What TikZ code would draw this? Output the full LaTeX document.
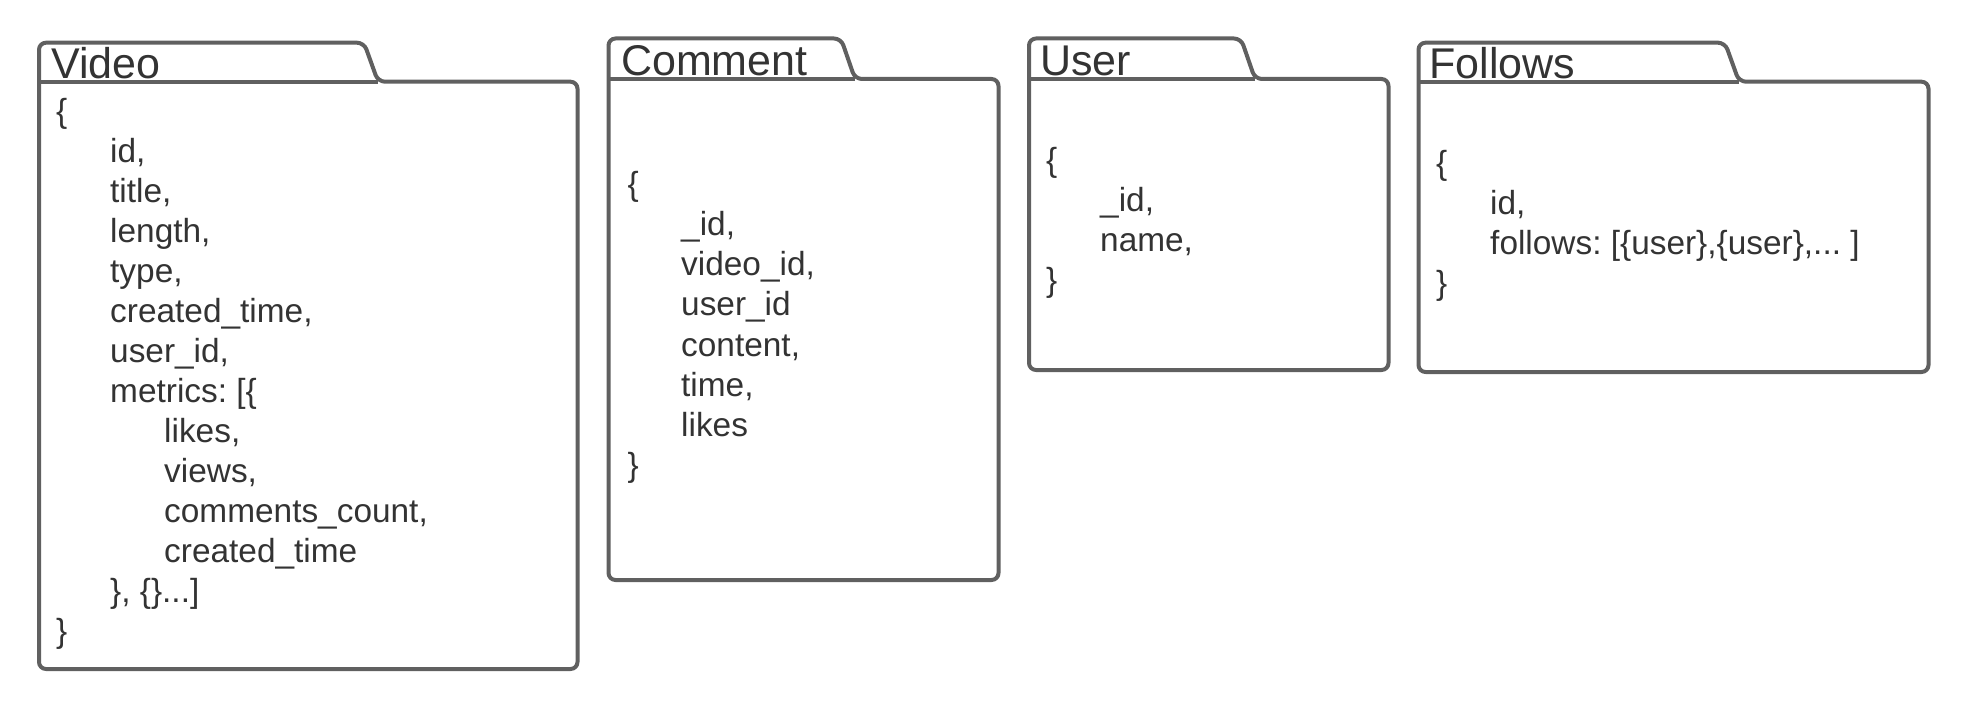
\documentclass[tikz,border=0pt]{standalone}
\usepackage{fontspec}
\setmainfont{Liberation Sans}
\frenchspacing
\definecolor{edge}{HTML}{606060}
\definecolor{ink}{HTML}{333333}
\tikzset{
  folder/.style={draw=edge, line width=4pt, rounded corners=7pt, line join=round},
  tabline/.style={draw=edge, line width=4pt},
  ttl/.style={anchor=base west, inner sep=0pt, text=ink, font=\fontsize{43}{50}\selectfont},
  fld/.style={anchor=base west, inner sep=0pt, text=ink, font=\fontsize{33.4}{40}\selectfont},
}
% #1 L, #2 tab top, #3 body top, #4 slant bottom x, #5 R, #6 bottom
\newcommand\folderbox[6]{%
  \draw[folder] (#1,#3) -- (#1,#2) -- ({#4-14},#2) -- (#4,#3) -- (#5,#3) -- (#5,#6) -- (#1,#6) -- cycle;
  \draw[tabline] (#1,#3) -- (#4,#3);
}
\begin{document}
\begin{tikzpicture}[x=1pt,y=-1pt]
\useasboundingbox (0,0) rectangle (1972,708);

% Video
\folderbox{39}{42.7}{81.7}{378}{577.5}{669}
\node[ttl] (vt) at (51,79) {Video};
\node[fld] (v0) at (56,122.7) {\{};
\node[fld] (v1) at (110,162.7) {id,};
\node[fld] (v2) at (110,202.7) {title,};
\node[fld] (v3) at (110,242.7) {length,};
\node[fld] (v4) at (110,282.7) {type,};
\node[fld] (v5) at (110,322.7) {created\_time,};
\node[fld] (v6) at (110,362.7) {user\_id,};
\node[fld] (v7) at (110,402.7) {metrics: [\{};
\node[fld] (v8) at (164,442.7) {likes,};
\node[fld] (v9) at (164,482.7) {views,};
\node[fld] (v10) at (164,522.7) {comments\_count,};
\node[fld] (v11) at (164,562.7) {created\_time};
\node[fld] (v12) at (110,602.7) {\}, \{\}...]};
\node[fld] (v13) at (56,642.7) {\}};

% Comment
\folderbox{608.5}{38.5}{79}{855}{998.5}{580}
\node[ttl] (ct) at (621,76) {Comment};
\node[fld] (c0) at (627.5,196) {\{};
\node[fld] (c1) at (681,236) {\_id,};
\node[fld] (c2) at (681,276) {video\_id,};
\node[fld] (c3) at (681,316) {user\_id};
\node[fld] (c4) at (681,356) {content,};
\node[fld] (c5) at (681,396) {time,};
\node[fld] (c6) at (681,436) {likes};
\node[fld] (c7) at (627.5,476) {\}};

% User
\folderbox{1029}{38.5}{79}{1255}{1388.5}{370}
\node[ttl] (ut) at (1040,76) {User};
\node[fld] (u0) at (1046,172) {\{};
\node[fld] (u1) at (1100,212) {\_id,};
\node[fld] (u2) at (1100,252) {name,};
\node[fld] (u3) at (1046,292) {\}};

% Follows
\folderbox{1418.5}{42.7}{81.7}{1739}{1928.5}{372}
\node[ttl] (ft) at (1429.5,79) {Follows};
\node[fld] (f0) at (1436,175) {\{};
\node[fld] (f1) at (1490,215) {id,};
\node[fld] (f2) at (1490,255) {follows: [\{user\},\{user\},... ]};
\node[fld] (f3) at (1436,295) {\}};
\end{tikzpicture}
\end{document}
